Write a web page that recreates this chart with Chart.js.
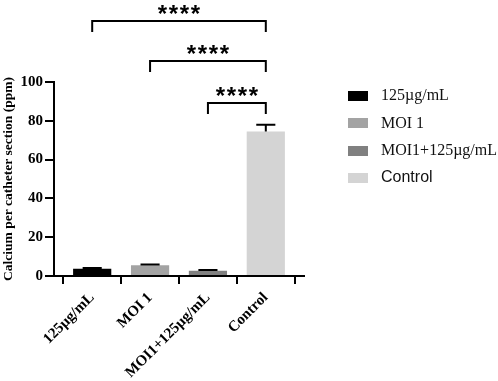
<!DOCTYPE html>
<html><head><meta charset="utf-8">
<script src="https://cdn.jsdelivr.net/npm/chart.js@4/dist/chart.umd.min.js"></script>
<style>html,body{margin:0;padding:0;background:#fff}canvas{display:block}</style>
</head><body>
<canvas id="c" width="498" height="381"></canvas>
<script>
// ---- data ----
const categories = ['125µg/mL', 'MOI 1', 'MOI1+125µg/mL', 'Control'];
const means = [3.8, 5.5, 2.7, 74.5];
const errors = [0.3, 0.4, 0.4, 3.4];
const colors = ['#000000', '#a3a3a3', '#808080', '#d4d4d4'];
const yTicks = [0, 20, 40, 60, 80, 100];
const comparisons = [[0, 3], [1, 3], [2, 3]];
const comparisonLevels = [131.4, 110.8, 89.2];
const comparisonLabels = ['****', '****', '****'];
const yTitle = 'Calcium per catheter section (ppm)';

const SERIF = '"Liberation Serif", "Times New Roman", serif';
const SANS = '"Liberation Sans", Arial, sans-serif';

const errorBars = {
  id: 'errorBars',
  afterDatasetsDraw(chart) {
    const ctx = chart.ctx, y = chart.scales.y;
    const meta = chart.getDatasetMeta(0);
    ctx.save();
    ctx.strokeStyle = '#000'; ctx.lineWidth = 2;
    meta.data.forEach((bar, i) => {
      const top = y.getPixelForValue(means[i] + errors[i]);
      const base = y.getPixelForValue(means[i]);
      const half = bar.width / 4;
      ctx.beginPath();
      ctx.moveTo(bar.x, base); ctx.lineTo(bar.x, top);
      ctx.moveTo(bar.x - half, top); ctx.lineTo(bar.x + half, top);
      ctx.stroke();
    });
    ctx.restore();
  }
};

const sigBrackets = {
  id: 'sigBrackets',
  afterDraw(chart) {
    const ctx = chart.ctx, x = chart.scales.x, y = chart.scales.y;
    ctx.save();
    ctx.strokeStyle = '#000'; ctx.lineWidth = 2; ctx.fillStyle = '#000';
    comparisons.forEach((pair, k) => {
      const x1 = x.getPixelForValue(pair[0]);
      const x2 = x.getPixelForValue(pair[1]);
      const yl = Math.round(y.getPixelForValue(comparisonLevels[k]));
      const leg = 11;
      ctx.beginPath();
      ctx.moveTo(x1, yl + leg); ctx.lineTo(x1, yl); ctx.lineTo(x2, yl); ctx.lineTo(x2, yl + leg);
      ctx.stroke();
      const label = comparisonLabels[k];
      const mid = (x1 + x2) / 2;
      const S = 24, gap = 11;
      ctx.font = 'bold ' + S + 'px ' + SANS;
      ctx.textAlign = 'center'; ctx.textBaseline = 'alphabetic';
      const yc = yl - 13;
      const n = label.length;
      for (let j = 0; j < n; j++) {
        const cx = mid + (j - (n - 1) / 2) * gap;
        ctx.fillText(label[j], cx, yc + 0.57 * S);
      }
    });
    ctx.restore();
  }
};

const sideLegend = {
  id: 'sideLegend',
  afterDraw(chart) {
    const ctx = chart.ctx;
    ctx.save();
    categories.forEach((name, i) => {
      const cy = 96 + i * 27.3;
      ctx.fillStyle = colors[i];
      ctx.fillRect(348, Math.round(cy - 5), 20, 10);
      ctx.fillStyle = '#111';
      ctx.font = '16px ' + (name === 'Control' ? SANS : SERIF);
      ctx.textAlign = 'left'; ctx.textBaseline = 'middle';
      ctx.fillText(name, 381, cy);
    });
    ctx.restore();
  }
};

new Chart(document.getElementById('c'), {
  type: 'bar',
  data: {
    datasets: [{
      data: means.map((v, i) => ({ x: i, y: v })),
      backgroundColor: colors,
      borderWidth: 0,
      categoryPercentage: 1,
      barPercentage: 0.66
    }]
  },
  options: {
    responsive: false,
    animation: false,
    devicePixelRatio: 1,
    layout: { padding: { top: 82, right: 194, left: 0, bottom: 0 } },
    plugins: { legend: { display: false }, tooltip: { enabled: false } },
    scales: {
      x: {
        type: 'linear',
        offset: false,
        min: -0.66, max: 3.66,
        afterBuildTicks(scale) { scale.ticks = categories.map((_, i) => ({ value: i })); },
        afterFit(scale) { scale.height = 105; },
        ticks: {
          autoSkip: false,
          minRotation: 45, maxRotation: 45,
          color: '#000',
          font: { family: SERIF, size: 15, weight: 'bold' },
          padding: 5,
          callback: (v) => categories[v]
        },
        grid: { drawOnChartArea: false, drawTicks: true, tickLength: 8, color: '#000', lineWidth: 2 },
        border: { display: true, color: '#000', width: 2 }
      },
      y: {
        min: 0, max: 100,
        afterBuildTicks(scale) { scale.ticks = yTicks.map(v => ({ value: v })); },
        afterFit(scale) { scale.width = 54; },
        ticks: {
          color: '#000',
          font: { family: SERIF, size: 15, weight: 'bold' },
          padding: 2
        },
        grid: { drawOnChartArea: false, drawTicks: true, tickLength: 9, color: '#000', lineWidth: 2 },
        border: { display: true, color: '#000', width: 2 },
        title: {
          display: true, text: yTitle, color: '#000',
          font: { family: SERIF, size: 13.5, weight: 'bold' },
          padding: { top: 0, bottom: 0 }
        }
      }
    }
  },
  plugins: [errorBars, sigBrackets, sideLegend]
});
</script>
</body></html>
